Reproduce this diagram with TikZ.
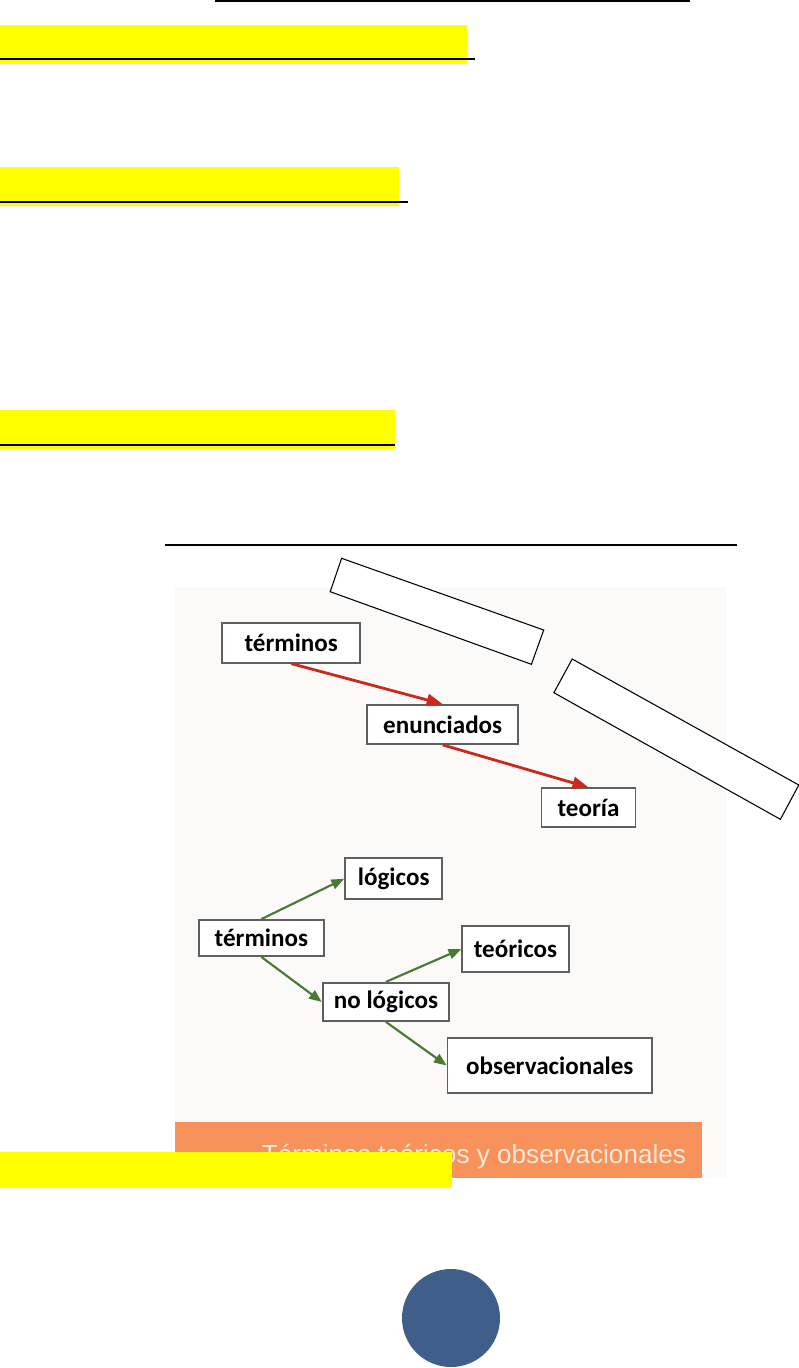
\documentclass[tikz,border=0pt]{standalone}
\usepackage{fontspec}
\usepackage{xcolor}
\usetikzlibrary{arrows.meta, positioning, calc}
\newfontfamily\boxfont{Carlito}
\newfontfamily\bandfont{Liberation Sans}
\definecolor{markYellow}{RGB}{255,255,0}
\definecolor{slideBack}{RGB}{251,250,249}
\definecolor{slideOrange}{RGB}{247,146,90}
\definecolor{slideText}{RGB}{253,232,218}
\definecolor{slideRed}{RGB}{200,42,30}
\definecolor{slideGreen}{RGB}{72,122,52}
\definecolor{boxGray}{RGB}{95,95,95}
\definecolor{pageBlue}{RGB}{63,95,138}

\begin{document}
\begin{tikzpicture}[x=0.75pt, y=-0.75pt,
    term/.style={draw=boxGray, line width=1.4pt, fill=white, inner sep=0pt,
      font=\boxfont\bfseries\fontsize{18.8}{20}\selectfont},
    redarrow/.style={-{Triangle[length=12pt, width=9pt]}, line width=2.1pt, draw=slideRed, fill=slideRed},
    greenarrow/.style={-{Triangle[length=9.5pt, width=7.5pt]}, line width=1.6pt, draw=slideGreen, fill=slideGreen},
    rule/.style={line width=1.6pt, draw=black}
  ]
  \useasboundingbox (0,0) rectangle (799,1368);

  % page headings
  \draw[rule] (215,1) -- (690,1);
  \fill[markYellow] (0,25) rectangle (467,64);
  \draw[rule] (0,59) -- (475,59);
  \fill[markYellow] (0,167) rectangle (399,206);
  \draw[rule] (0,202) -- (408,202);
  \fill[markYellow] (0,410) rectangle (395,449);
  \draw[rule] (0,445) -- (395,445);
  \draw[rule] (165,545) -- (737,545);

  % slide picture
  \fill[slideBack] (175,587) rectangle (727,1178);
  \fill[slideOrange] (175,1122) rectangle (702,1178);
  \node[font=\bandfont\fontsize{19.6}{21}\selectfont, text=slideText, anchor=base] (band)
    at (474,1163) {Términos teóricos y observacionales};

  % first chain
  \node[term, minimum width=103.2pt, minimum height=29.5pt] (terminosA) at (291.2,643) {términos};
  \node[term, minimum width=113.5pt, minimum height=29.2pt] (enunciados) at (442.7,724.5) {enunciados};
  \node[term, minimum width=70.5pt, minimum height=28.8pt] (teoria) at (588.5,807.5) {teoría};
  \draw[redarrow] (terminosA.south) -- (enunciados.north);
  \draw[redarrow] (enunciados.south) -- (teoria.north);

  % second tree
  \node[term, minimum width=73pt, minimum height=30.7pt] (logicos) at (393.7,878.8) {lógicos};
  \node[term, minimum width=93.7pt, minimum height=27pt] (terminosB) at (261.4,938) {términos};
  \node[term, minimum width=79.9pt, minimum height=34.9pt] (teoricos) at (515.5,949) {teóricos};
  \node[term, minimum width=94.9pt, minimum height=28.7pt] (nologicos) at (386,1001.9) {no lógicos};
  \node[term, minimum width=153.4pt, minimum height=41pt] (observ) at (549.8,1065.4) {observacionales};
  \draw[greenarrow] (terminosB.north) -- (logicos.west);
  \draw[greenarrow] (terminosB.south) -- (nologicos.west);
  \draw[greenarrow] (nologicos.north) -- (teoricos.west);
  \draw[greenarrow] (nologicos.south) -- (observ.west);

  % blank tilted labels
  \draw[fill=white, line width=0.8pt] (341.6,558.3) -- (543.7,630) -- (531.4,664.3) -- (330.2,591.7) -- cycle;
  \draw[fill=white, line width=0.8pt] (572.2,659) -- (798.8,785) -- (780.4,819.3) -- (553.9,692.7) -- cycle;

  \fill[markYellow] (0,1152) rectangle (452,1188);

  % page marker
  \fill[pageBlue] (451,1318) circle (49);
\end{tikzpicture}
\end{document}
